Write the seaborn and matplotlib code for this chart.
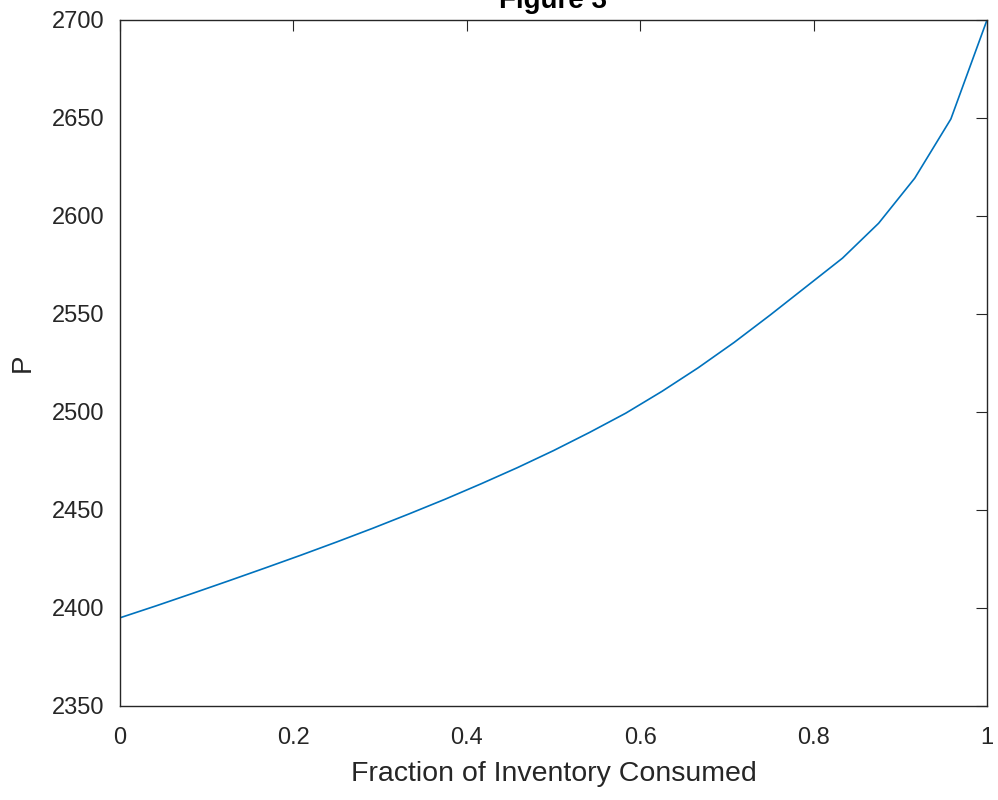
import matplotlib
matplotlib.use("Agg")
import matplotlib.pyplot as plt
import seaborn as sns
import pandas as pd

fraction = [k / 24 for k in range(25)]
price = [2395.0, 2401.1, 2407.4, 2413.8, 2420.3, 2426.9, 2433.7, 2440.7,
         2448.0, 2455.5, 2463.4, 2471.6, 2480.3, 2489.6, 2499.4, 2510.5,
         2522.5, 2535.5, 2549.5, 2564.0, 2578.5, 2596.3, 2619.3, 2649.5,
         2700.0]
x_ticks = [0, 0.2, 0.4, 0.6, 0.8, 1]
x_tick_labels = ["0", "0.2", "0.4", "0.6", "0.8", "1"]
y_ticks = [2350, 2400, 2450, 2500, 2550, 2600, 2650, 2700]

sns.set_style("white")
plt.rcParams["font.family"] = ["Liberation Sans", "DejaVu Sans"]

df = pd.DataFrame({"Fraction of Inventory Consumed": fraction, "P": price})

fig = plt.figure(figsize=(9.98, 8.0), dpi=100)
ax = fig.add_axes([120 / 998, 1 - 706 / 800, (987 - 120) / 998, (706 - 20) / 800])
sns.lineplot(data=df, x="Fraction of Inventory Consumed", y="P", ax=ax,
             color="#0072BD", linewidth=1.2)

ax.set_xlim(0, 1)
ax.set_ylim(2350, 2700)
ax.set_xticks(x_ticks)
ax.set_xticklabels(x_tick_labels)
ax.set_yticks(y_ticks)

dark = "#262626"
for s in ax.spines.values():
    s.set_color(dark)
    s.set_linewidth(1.0)
    s.set_visible(True)
ax.tick_params(direction="in", length=8, width=0.8, colors=dark,
               labelsize=17, top=True, right=True)
ax.tick_params(axis="x", pad=15)
ax.tick_params(axis="y", pad=11)
ax.set_xlabel("Fraction of Inventory Consumed", fontsize=20.5, color=dark, labelpad=9)
ax.set_ylabel("P", fontsize=20, color=dark, labelpad=12)

fig.text(553 / 998, 1 - 8 / 800, "Figure 3", ha="center", va="baseline",
         fontsize=20, fontweight="bold", color="black")

fig.savefig("out.png", dpi=100, facecolor="white")
